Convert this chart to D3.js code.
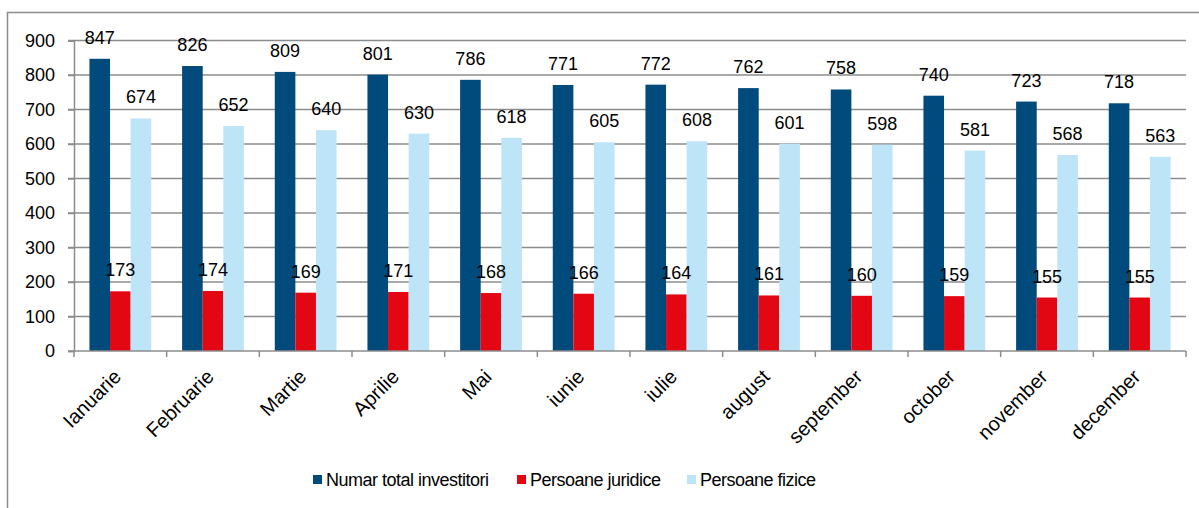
<!DOCTYPE html>
<html>
<head>
<meta charset="utf-8">
<script src="https://cdn.jsdelivr.net/npm/d3@7"></script>
<style>
    body { margin: 0; background: #fff; }
    svg { display: block; font-family: "Liberation Sans", Arial, sans-serif; }
</style>
</head>
<body>
<div id="chart"></div>
<script>

// data
const months = ["Ianuarie", "Februarie", "Martie", "Aprilie", "Mai", "iunie",
    "iulie", "august", "september", "october", "november", "december"];
const seriesNames = ["Numar total investitori", "Persoane juridice", "Persoane fizice"];
const total = [847, 826, 809, 801, 786, 771, 772, 762, 758, 740, 723, 718];
const juridice = [173, 174, 169, 171, 168, 166, 164, 161, 160, 159, 155, 155];
const fizice = [674, 652, 640, 630, 618, 605, 608, 601, 598, 581, 568, 563];
const yTicks = [0, 100, 200, 300, 400, 500, 600, 700, 800, 900];

const colors = ["#004a7c", "#e30613", "#bee4f8"];

const width = 1199;
const height = 508;
const margin = { top: 40.5, left: 74, right: 13, bottom: 157 };

const rows = months.map((m, i) => ({ month: m, values: [total[i], juridice[i], fizice[i]] }));

const svg = d3.select("#chart")
    .append("svg")
    .attr("width", width)
    .attr("height", height);

// outer frame (bottom edge falls outside the picture)
svg.append("rect")
    .attr("x", 7.5)
    .attr("y", 12.5)
    .attr("width", 1300)
    .attr("height", 600)
    .attr("fill", "none")
    .attr("stroke", "#8c8c8c")
    .attr("stroke-width", 1.5);

const x = d3.scaleBand()
    .domain(months)
    .range([margin.left, width - margin.right]);

const inner = d3.scaleBand()
    .domain(d3.range(3))
    .range([0, x.bandwidth()])
    .paddingOuter(0.75);

const y = d3.scaleLinear()
    .domain([0, 900])
    .range([height - margin.bottom, margin.top]);

// gridlines
svg.append("g")
    .selectAll("line")
    .data(yTicks.filter(d => d > 0))
    .enter().append("line")
    .attr("x1", margin.left - 6)
    .attr("x2", width - margin.right)
    .attr("y1", d => y(d))
    .attr("y2", d => y(d))
    .attr("stroke", "#8c8c8c")
    .attr("stroke-width", 1.5);

// y axis
const yAxis = svg.append("g")
    .attr("transform", `translate(${margin.left},0)`)
    .call(d3.axisLeft(y).tickValues(yTicks).tickSize(6).tickPadding(13));
yAxis.select(".domain").attr("stroke", "#8c8c8c").attr("stroke-width", 1.5);
yAxis.selectAll(".tick line").attr("stroke", "#8c8c8c").attr("stroke-width", 1.5);
yAxis.selectAll(".tick text")
    .attr("font-size", 18)
    .attr("fill", "#000")
    .style("font-family", "Liberation Sans, Arial, sans-serif");

// bars
const groups = svg.append("g")
    .selectAll("g.month")
    .data(rows)
    .enter().append("g")
    .attr("class", "month")
    .attr("transform", d => `translate(${x(d.month)},0)`);

groups.selectAll("rect")
    .data(d => d.values)
    .enter().append("rect")
    .attr("x", (d, i) => inner(i))
    .attr("width", inner.bandwidth())
    .attr("y", d => y(d))
    .attr("height", d => y(0) - y(d))
    .attr("fill", (d, i) => colors[i]);

groups.selectAll("text")
    .data(d => d.values)
    .enter().append("text")
    .attr("x", (d, i) => inner(i) + inner.bandwidth() / 2)
    .attr("y", d => y(d) - 15)
    .attr("text-anchor", "middle")
    .attr("font-size", 18)
    .attr("fill", "#000")
    .text(d => d);

// x axis
svg.append("line")
    .attr("x1", margin.left - 6)
    .attr("x2", width - margin.right)
    .attr("y1", y(0))
    .attr("y2", y(0))
    .attr("stroke", "#8c8c8c")
    .attr("stroke-width", 1.5);

svg.append("g")
    .selectAll("line")
    .data(months.concat(["end"]))
    .enter().append("line")
    .attr("x1", (d, i) => margin.left + i * x.step())
    .attr("x2", (d, i) => margin.left + i * x.step())
    .attr("y1", y(0))
    .attr("y2", y(0) + 6)
    .attr("stroke", "#8c8c8c")
    .attr("stroke-width", 1.5);

svg.append("g")
    .selectAll("text")
    .data(months)
    .enter().append("text")
    .attr("transform", d => `translate(${x(d) + x.bandwidth() / 2 + 2},${y(0) + 27}) rotate(-45)`)
    .attr("text-anchor", "end")
    .attr("font-size", 20)
    .attr("fill", "#000")
    .text(d => d);

// legend
const legendX = [313, 517, 687];
const legend = svg.append("g")
    .selectAll("g")
    .data(seriesNames)
    .enter().append("g")
    .attr("transform", (d, i) => `translate(${legendX[i]},480)`);

legend.append("rect")
    .attr("x", 0)
    .attr("y", -5)
    .attr("width", 9)
    .attr("height", 9)
    .attr("fill", (d, i) => colors[i]);

legend.append("text")
    .attr("x", 13)
    .attr("dy", "0.35em")
    .attr("font-size", 18)
    .attr("letter-spacing", -0.5)
    .attr("fill", "#000")
    .text(d => d);

</script>
</body>
</html>
